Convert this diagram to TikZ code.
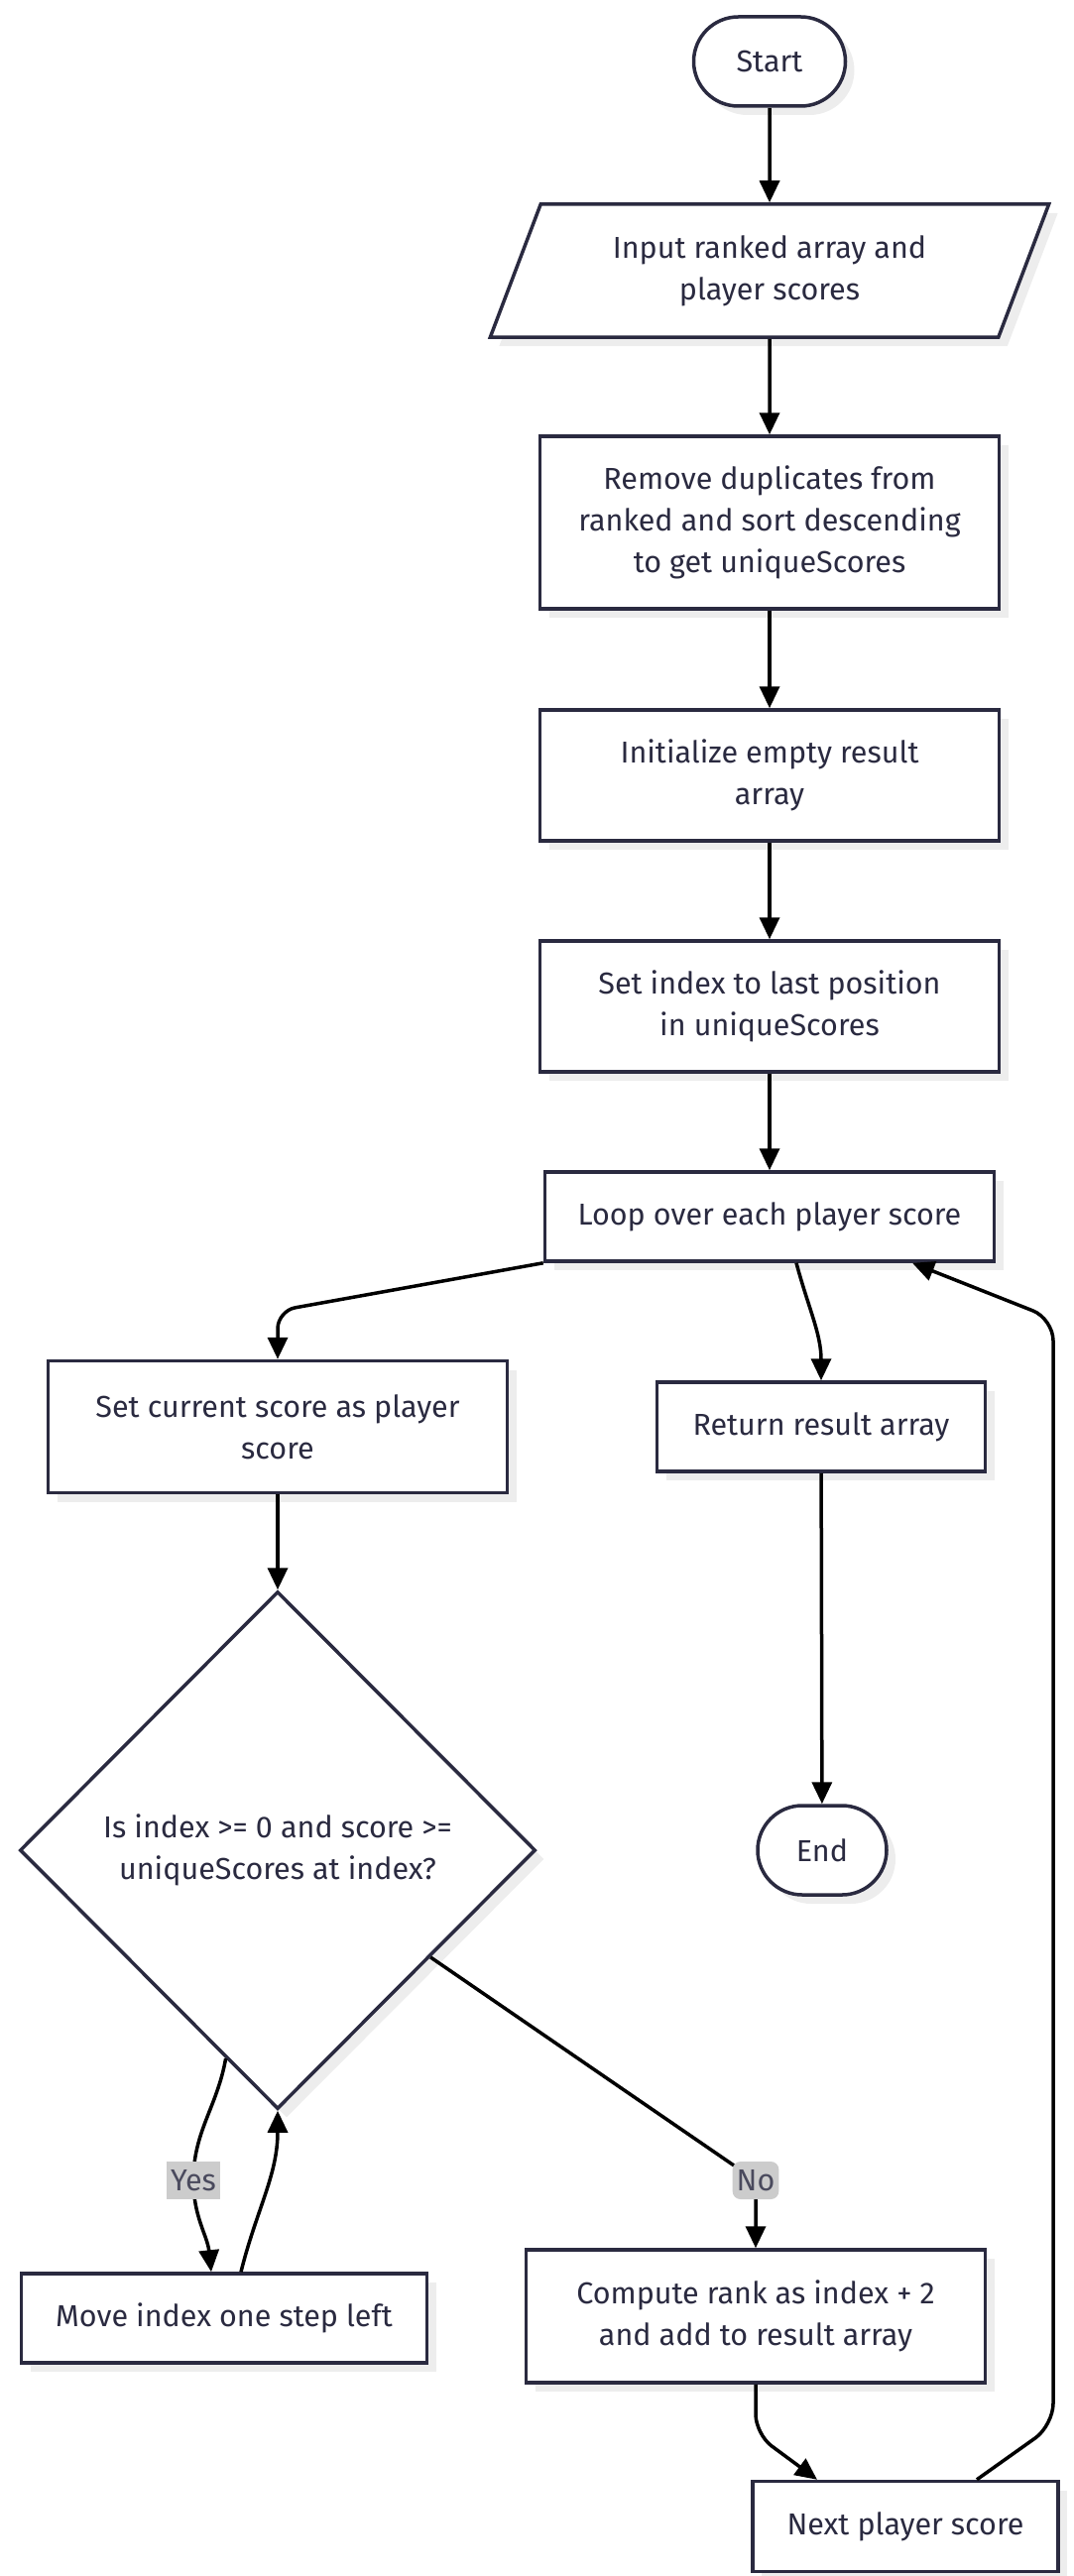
\documentclass[tikz,border=0pt]{standalone}
\usepackage{fontspec}
\setmainfont{Fira Sans}
\usetikzlibrary{calc,positioning}
\usetikzlibrary{shapes.geometric,shapes.misc}
\usetikzlibrary{shadows,arrows.meta}
\definecolor{ink}{HTML}{2A2A40}
\definecolor{lblgray}{HTML}{CCCCCC}
\tikzset{
  % node styles (terminals, input, steps, decision)
  % gebruik: \node[proc,minimum width=..] (naam) at (x,y) {tekst};
  base/.style={draw=ink,line width=3.5pt,fill=white,text=ink,align=center,inner sep=0pt,
    font=\fontsize{30.5}{42}\selectfont,
    general shadow={fill=black!7,shadow xshift=9pt,shadow yshift=-9pt}},
  term/.style={base,rounded rectangle,minimum width=153pt,minimum height=90pt},
  inout/.style={base,trapezium,trapezium left angle=64,trapezium right angle=116,
    trapezium stretches=true,minimum width=566pt,minimum height=134pt},
  proc/.style={base,rectangle,minimum width=463pt,minimum height=#1},
  proc/.default=132pt,
  decision/.style={base,diamond,aspect=1,minimum width=520pt,minimum height=522pt},
  % connector styles
  flow/.style={draw=black,line width=3.5pt,-{Triangle[length=22pt,width=20pt]}},
  lbl/.style={fill=lblgray,text=ink!85,inner sep=4pt,minimum height=38pt,font=\fontsize{30.5}{34}\selectfont},
}
\begin{document}
\begin{tikzpicture}[x=1pt,y=-1pt]
  \useasboundingbox (0,0) rectangle (1082,2598);
  \node[term] (start) at (776,62) {Start};
  \node[inout] (input) at (776,273) {Input ranked array and\\player scores};
  \node[proc=174pt] (dedup) at (776,527) {Remove duplicates from\\ranked and sort descending\\to get uniqueScores};
  \node[proc] (init) at (776,782) {Initialize empty result\\array};
  \node[proc] (setidx) at (776,1015) {Set index to last position\\in uniqueScores};
  \node[proc=90pt,minimum width=453pt] (loop) at (776,1227) {Loop over each player score};
  \node[proc=133pt] (cur) at (280,1439) {Set current score as player\\score};
  \node[proc=90pt,minimum width=331pt] (ret) at (828,1439) {Return result array};
  \node[decision] (dec) at (280,1866) {Is index >= 0 and score >=\\uniqueScores at index?};
  \node[term,minimum width=130pt] (fin) at (829,1866) {End};
  \node[proc=90pt,minimum width=409pt] (move) at (226,2338) {Move index one step left};
  \node[proc=134pt] (comp) at (762,2336) {Compute rank as index + 2\\and add to result array};
  \node[proc=91pt,minimum width=308pt] (next) at (913,2548) {Next player score};
  \draw[flow] (start) -- (input);
  \draw[flow] (input) -- (dedup);
  \draw[flow] (dedup) -- (init);
  \draw[flow] (init) -- (setidx);
  \draw[flow] (setidx) -- (loop);
  \draw[flow,rounded corners=18pt] (loop.south west) -- (280,1322) -- (cur.north);
  \draw[flow] ([xshift=27pt]loop.south) to[out=-75,in=90] (ret.north);
  \draw[flow] (ret) -- (fin);
  \draw[flow] (cur) -- (dec);
  \draw[flow,rounded corners=8pt] (dec.-35) -- (762,2199) node[lbl]{No} -- (comp.north);
  \draw[flow] (dec.-104) to[out=-100,in=90] (195,2199) node[lbl]{Yes} to[out=-90,in=96] ([xshift=-13pt]move.north);
  \draw[flow] ([xshift=17pt]move.north) to[out=76,in=-90] (dec.south);
  \draw[flow,rounded corners=20pt] (comp.south) -- (762,2455) -- ([xshift=-89pt]next.north);
  \draw[flow,rounded corners=22pt] ([xshift=72pt]next.north) -- (1062,2446) -- (1062,1330) -- ([xshift=144pt]loop.south);
\end{tikzpicture}
\end{document}
